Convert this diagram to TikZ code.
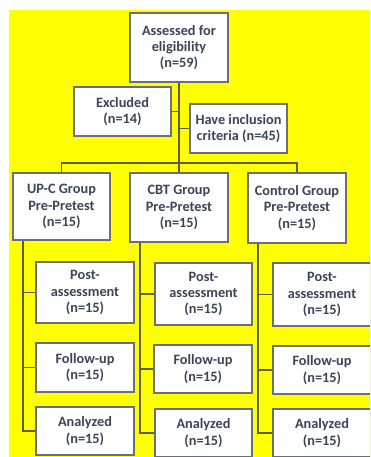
\documentclass[tikz,border=0pt]{standalone}
\usepackage{fontspec}
\setmainfont{Carlito}
\usetikzlibrary{calc}
\definecolor{bgyellow}{HTML}{FFFF00}
\definecolor{txt}{HTML}{3A4556}
\definecolor{bord}{HTML}{6B6F78}
\definecolor{conn}{HTML}{5E5E3C}
\begin{document}
\begin{tikzpicture}[x=1pt,y=-1pt,
  boxnode/.style={draw=bord,line width=1.2pt,fill=white,align=center,inner sep=1pt,
    font=\fontsize{14.3}{16.3}\selectfont\bfseries,text=txt},
  connline/.style={draw=conn,line width=1.3pt}]
\useasboundingbox (0,0) rectangle (370,457);
\clip (0,0) rectangle (370,457);
\fill[bgyellow] (9,10) rectangle (372,460);
% top part
\node[boxnode,minimum width=98pt,minimum height=69pt] (A) at (179,47.5) {Assessed for\\eligibility\\(n=59)};
\node[boxnode,minimum width=97pt,minimum height=49pt] (Ex) at (122.5,111.5) {Excluded\\(n=14)};
\node[boxnode,minimum width=97pt,minimum height=49pt] (In) at (238.5,128.5) {Have inclusion\\criteria (n=45)};
% groups
\node[boxnode,minimum width=97pt,minimum height=67pt] (G1) at (61.5,206.5) {UP-C Group\\Pre-Pretest\\(n=15)};
\node[boxnode,minimum width=98pt,minimum height=69pt] (G2) at (179,207.5) {CBT Group\\Pre-Pretest\\(n=15)};
\node[boxnode,minimum width=98pt,minimum height=70pt] (G3) at (297,208) {Control Group\\Pre-Pretest\\(n=15)};
% post
\node[boxnode,minimum width=98pt,minimum height=61pt] (P1) at (85,292.5) {Post-\\assessment\\(n=15)};
\node[boxnode,minimum width=97pt,minimum height=62pt] (P2) at (203.5,294) {Post-\\assessment\\(n=15)};
\node[boxnode,minimum width=98pt,minimum height=63pt] (P3) at (322,294.5) {Post-\\assessment\\(n=15)};
% follow-up
\node[boxnode,minimum width=98pt,minimum height=49pt] (F1) at (85,367.5) {Follow-up\\(n=15)};
\node[boxnode,minimum width=98pt,minimum height=48pt] (F2) at (203,369) {Follow-up\\(n=15)};
\node[boxnode,minimum width=98pt,minimum height=48pt] (F3) at (322,370) {Follow-up\\(n=15)};
% analyzed
\node[boxnode,minimum width=98pt,minimum height=48pt] (N1) at (85,431) {Analyzed\\(n=15)};
\node[boxnode,minimum width=97pt,minimum height=48pt] (N2) at (203.5,433) {Analyzed\\(n=15)};
\node[boxnode,minimum width=98pt,minimum height=48pt] (N3) at (322,433) {Analyzed\\(n=15)};
% connectors top
\coordinate (bar) at (179,163);
\draw[connline] (A.south) -- (bar);
\draw[connline] (Ex.east) -- (Ex.east -| A.south);
\draw[connline] (A.south |- In.west) -- (In.west);
\draw[connline] (G1.north) -- (G1.north |- bar) -- (G3.north |- bar) -- (G3.north);
\draw[connline] (bar) -- (G2.north);
% spines
\coordinate (s1) at (23,0);
\coordinate (s2) at (140,0);
\coordinate (s3) at (258,0);
\draw[connline] (s1 |- G1.south) -- (s1 |- N1.west) -- (N1.west);
\draw[connline] (s1 |- P1.west) -- (P1.west);
\draw[connline] (s1 |- F1.west) -- (F1.west);
\draw[connline] (s2 |- G2.south) -- (s2 |- N2.west) -- (N2.west);
\draw[connline] (s2 |- P2.west) -- (P2.west);
\draw[connline] (s2 |- F2.west) -- (F2.west);
\draw[connline] (s3 |- G3.south) -- (s3 |- N3.west) -- (N3.west);
\draw[connline] (s3 |- P3.west) -- (P3.west);
\draw[connline] (s3 |- F3.west) -- (F3.west);
\end{tikzpicture}
\end{document}
